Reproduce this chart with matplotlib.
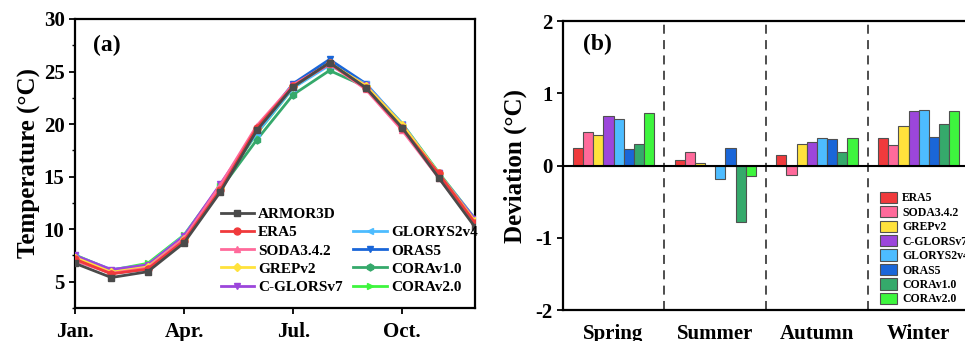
import matplotlib
matplotlib.use("Agg")
import matplotlib.pyplot as plt
from matplotlib.lines import Line2D
from matplotlib.ticker import MultipleLocator
import numpy as np

plt.rcParams['font.family'] = ['Liberation Serif', 'DejaVu Serif']
plt.rcParams['font.weight'] = 'bold'
plt.rcParams['axes.unicode_minus'] = False

months = np.arange(1, 13)
month_ticks = [1, 4, 7, 10]
month_labels = ['Jan.', 'Apr.', 'Jul.', 'Oct.']

armor3d = [6.75, 5.4, 5.95, 8.7, 13.55, 19.4, 23.55, 25.85, 23.45, 19.65, 14.9, 10.2]
era5 = [7.15, 5.75, 6.2, 8.9, 13.75, 19.65, 23.6, 25.8, 23.45, 19.6, 15.3, 10.6]
soda = [7.0, 5.8, 6.3, 9.1, 14.2, 19.85, 23.75, 25.75, 23.3, 19.4, 14.9, 10.4]
grep = [7.3, 5.9, 6.4, 9.1, 13.95, 19.5, 23.6, 25.8, 23.65, 19.95, 15.3, 10.75]
cglors = [7.5, 6.15, 6.6, 9.35, 14.3, 19.4, 23.7, 25.7, 23.7, 19.95, 15.3, 10.95]
glorys = [7.5, 6.15, 6.6, 9.4, 14.15, 19.15, 23.45, 25.6, 23.8, 20.05, 15.3, 11.0]
oras5 = [7.15, 5.8, 6.2, 8.9, 13.8, 19.5, 23.85, 26.15, 23.85, 19.95, 15.3, 10.6]
corav1 = [7.35, 5.95, 6.3, 9.0, 13.8, 18.5, 22.8, 25.1, 23.55, 19.85, 15.2, 10.8]
corav2 = [7.55, 6.1, 6.75, 9.45, 14.15, 19.1, 23.45, 25.8, 23.7, 20.05, 15.4, 11.0]

seasons = ['Spring', 'Summer', 'Autumn', 'Winter']
dev_era5 = [0.24, 0.08, 0.15, 0.38]
dev_soda = [0.46, 0.19, -0.13, 0.28]
dev_grep = [0.42, 0.03, 0.30, 0.54]
dev_cglors = [0.68, 0.0, 0.32, 0.75]
dev_glorys = [0.65, -0.19, 0.38, 0.77]
dev_oras5 = [0.23, 0.245, 0.36, 0.40]
dev_corav1 = [0.30, -0.78, 0.19, 0.58]
dev_corav2 = [0.72, -0.15, 0.38, 0.75]

names = ['ERA5', 'SODA3.4.2', 'GREPv2', 'C-GLORSv7', 'GLORYS2v4', 'ORAS5', 'CORAv1.0', 'CORAv2.0']
colors = ['#f03a3c', '#ff6a9b', '#ffe23c', '#9c46db', '#4dbcff', '#1a66d8', '#35a96b', '#3ef53e']
markers = ['o', '^', 'D', 'v', '<', 'v', 'h', '>']
line_series = [era5, soda, grep, cglors, glorys, oras5, corav1, corav2]
dev_series = [dev_era5, dev_soda, dev_grep, dev_cglors, dev_glorys, dev_oras5, dev_corav1, dev_corav2]

fig = plt.figure(figsize=(9.65, 3.41), dpi=100)
ax1 = fig.add_axes([0.0777, 0.0968, 0.4145, 0.8475])
ax2 = fig.add_axes([0.5831, 0.0909, 0.4216, 0.8475])

# ---- panel (a)
handles = []
h0, = ax1.plot(months, armor3d, color='#4a4a4a', marker='s', ms=5, lw=2, label='ARMOR3D', zorder=5)
handles.append(h0)
for i, (s, c, m, n) in enumerate(zip(line_series, colors, markers, names)):
    ms = 4 if m == 'D' else 5
    h, = ax1.plot(months, s, color=c, marker=m, ms=ms, lw=2, label=n, zorder=4 - i * 0.1)
    handles.append(h)
blank = Line2D([], [], color='none', label=' ')
leg_handles = handles[:5] + [blank] + handles[5:]
leg_labels = [h.get_label() for h in handles[:5]] + [''] + [h.get_label() for h in handles[5:]]
ax1.legend(leg_handles, leg_labels, ncol=2, loc='upper left', bbox_to_anchor=(0.345, 0.375),
           frameon=False, borderpad=0, prop={'size': 11, 'weight': 'bold'},
           handlelength=2.2, handletextpad=0.25, labelspacing=0.3, columnspacing=0.7)

ax1.set_xlim(1, 12)
ax1.set_ylim(2.5, 30)
ax1.set_xticks(month_ticks)
ax1.set_xticklabels(month_labels)
ax1.yaxis.set_minor_locator(MultipleLocator(2.5))
ax1.set_yticks([5, 10, 15, 20, 25, 30])
ax1.set_ylabel('Temperature (°C)', fontsize=18, fontweight='bold', labelpad=2)
ax1.text(0.045, 0.91, '(a)', transform=ax1.transAxes, fontsize=17, fontweight='bold', va='center')

# ---- panel (b)
x = np.arange(len(seasons))
w = 0.1
for i, (d, c, n) in enumerate(zip(dev_series, colors, names)):
    ax2.bar(x + (i - 3.5) * w, d, width=w, color=c, edgecolor='#505050', linewidth=0.8, label=n, zorder=3)
ax2.axhline(0, color='black', lw=1.5, zorder=4)
for b in [0.5, 1.5, 2.5]:
    ax2.axvline(b, color='#404040', lw=1.3, ls=(0, (5, 3.5)), zorder=2)
ax2.set_xlim(-0.5, 3.5)
ax2.set_ylim(-2, 2)
ax2.set_xticks(x)
ax2.set_xticklabels(seasons)
ax2.set_yticks([-2, -1, 0, 1, 2])
ax2.set_ylabel('Deviation (°C)', fontsize=18, fontweight='bold', labelpad=6)
ax2.text(0.05, 0.92, '(b)', transform=ax2.transAxes, fontsize=17, fontweight='bold', va='center')
ax2.legend(loc='upper left', bbox_to_anchor=(0.765, 0.43), frameon=False, borderpad=0,
           prop={'size': 8.5, 'weight': 'bold'}, handlelength=1.45, handleheight=1.1,
           handletextpad=0.45, labelspacing=0.15)

for ax in (ax1, ax2):
    for sp in ax.spines.values():
        sp.set_linewidth(1.6)
    ax.tick_params(which='major', direction='out', length=4, width=1.3, labelsize=15)
    ax.tick_params(which='minor', direction='out', length=2.5, width=1.0)
    for lab in ax.get_xticklabels() + ax.get_yticklabels():
        lab.set_fontweight('bold')
ax1.tick_params(axis='x', pad=6)
ax2.tick_params(axis='x', length=0, pad=10)

fig.savefig('out.png', dpi=100)
